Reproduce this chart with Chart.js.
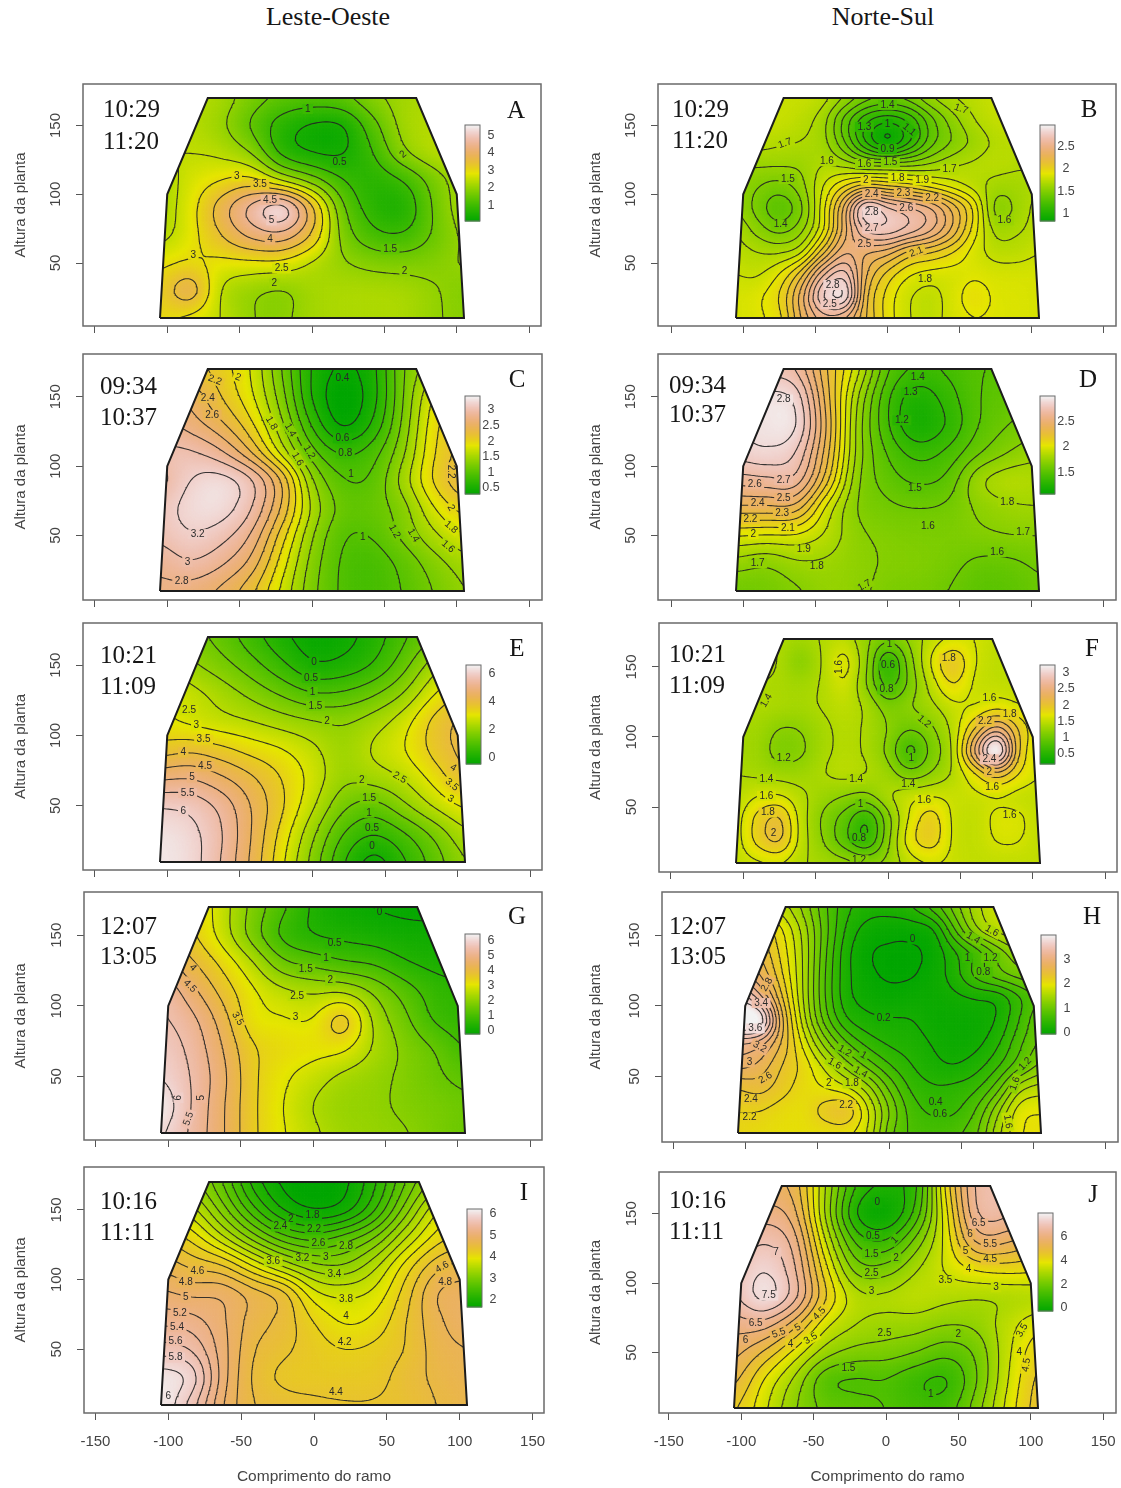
<!DOCTYPE html>
<html lang="pt">
<head>
<meta charset="UTF-8">
<title>Leste-Oeste / Norte-Sul</title>
<script src="https://cdn.jsdelivr.net/npm/chart.js"></script>
<style>
html,body{margin:0;padding:0;background:#fff}
#page{position:relative;width:1121px;height:1488px;overflow:hidden}
canvas{position:absolute;filter:blur(.35px)}
.t{position:absolute;font-family:"Liberation Serif",serif;color:#161616;white-space:nowrap;line-height:1;transform:translateY(-50%)}
</style>
</head>
<body>
<div id="page"></div>
<script>
// values. rows run top (170) to bottom (10), columns -105 to 105
const gridA=[
[2.4,2.4,2.25,1.75,1.4,1.3,1.4,1.9,2.2,2.3,2.3],
[2.4,2.4,2.1,1.4,.7,.36,.36,1.3,2.2,2.4,2.4],
[2.5,2.5,2.4,2,.75,.4,.4,.95,1.95,2.4,2.5],
[2.2,2.7,3,3.2,2.4,1.75,1,.7,.95,1.7,2.3],
[2.2,2.8,3.8,4.8,5.7,3.8,1.55,.72,.55,1.55,2.3],
[2.3,2.8,3.5,4.2,4.4,3.5,1.8,1.1,1,1.55,2.1],
[2.9,3.05,2.85,2.85,2.85,2.4,2.05,1.85,1.8,1.85,2.05],
[3.2,4,2.4,2.05,1.9,2.2,2.3,2.3,2.25,2.05,1.85],
[3.05,2.85,2.5,2,1.9,2.2,2.3,2.3,2.3,2.05,1.9]];
const gridB=[
[1.8,1.8,1.8,1.8,1.75,1.6,1.45,1.4,1.45,1.6,1.7,1.75,1.8,1.8,1.8],
[1.8,1.8,1.8,1.75,1.65,1.35,1.1,1,1.1,1.35,1.55,1.7,1.78,1.8,1.8],
[1.75,1.75,1.72,1.7,1.65,1.4,1.05,.82,1.05,1.35,1.5,1.62,1.72,1.75,1.75],
[1.6,1.62,1.62,1.62,1.7,1.65,1.55,1.55,1.55,1.6,1.68,1.72,1.75,1.72,1.7],
[1.6,1.5,1.45,1.55,1.8,2,2.15,2.1,2.05,1.95,1.85,1.75,1.65,1.65,1.7],
[1.6,1.45,1.3,1.45,1.85,2.35,2.95,2.75,2.65,2.55,2.3,2,1.52,1.62,1.75],
[1.7,1.55,1.45,1.55,1.85,2.35,2.75,2.8,2.7,2.55,2.3,1.95,1.65,1.68,1.75],
[1.75,1.7,1.68,1.75,2.15,2.5,2.4,2.35,2.15,2.1,2,1.85,1.75,1.75,1.8],
[1.8,1.78,1.9,2.15,2.6,2.8,2.3,2.05,1.9,1.85,1.85,1.88,1.85,1.85,1.85],
[1.85,1.88,2,2.35,2.85,3,2.2,1.95,1.8,1.75,1.85,1.97,1.88,1.87,1.85],
[1.85,1.88,1.95,2.3,2.55,2.5,2.2,1.95,1.8,1.75,1.85,1.9,1.88,1.87,1.85]];
const gridC=[
[2.4,2.3,2.1,1.8,1.2,.55,.36,.5,1.2,1.55,1.75],
[2.6,2.55,2.2,1.85,1.3,.55,.24,.48,1.2,1.85,2.1],
[2.9,2.7,2.45,2.05,1.45,.75,.3,.6,1.25,1.95,2.25],
[3.05,3.05,2.85,2.4,1.7,1.05,.75,.9,1.35,2,2.3],
[2.9,3.22,3.33,3.1,2.45,1.4,1,1.02,1.5,2.05,2.4],
[3.1,3.3,3.33,3.05,2.4,1.55,1.12,1.1,1.3,1.8,2.1],
[3.05,3.2,3.1,2.8,2.1,1.4,1,1,1.25,1.55,1.8],
[2.85,3,2.85,2.55,1.9,1.3,.95,.88,1.05,1.3,1.5],
[2.75,2.7,2.55,2.25,1.75,1.25,.95,.88,1,1.2,1.4]];
const gridD=[
[2.7,2.75,2.7,2.3,1.95,1.5,1.38,1.42,1.5,1.5,1.55],
[2.85,2.95,2.9,2.35,1.8,1.4,1.22,1.35,1.5,1.55,1.6],
[2.9,2.95,2.95,2.4,1.75,1.4,1.17,1.3,1.5,1.6,1.65],
[2.85,2.9,2.82,2.35,1.75,1.48,1.35,1.42,1.58,1.7,1.78],
[2.65,2.68,2.7,2.25,1.7,1.55,1.47,1.52,1.8,1.88,1.85],
[2.38,2.38,2.38,1.95,1.68,1.62,1.6,1.62,1.72,1.78,1.8],
[2,1.98,1.98,1.88,1.72,1.68,1.66,1.66,1.68,1.7,1.7],
[1.75,1.7,1.78,1.78,1.73,1.69,1.68,1.64,1.57,1.57,1.62],
[1.6,1.62,1.68,1.75,1.73,1.66,1.64,1.6,1.52,1.52,1.58]];
const gridE=[
[1.9,1.7,1.3,.7,.1,-.3,-.2,.2,.9,1.5,1.9],
[2.6,2.1,1.7,1.2,.6,0,.1,.5,1.3,2.3,2.8],
[3,2.7,2.3,1.85,1.4,1,1.05,1.4,2,3,3.6],
[3.1,2.85,2.65,2.5,2.25,2.05,1.95,2.25,2.8,3.7,4.2],
[3.7,3.9,3.65,3.3,3.05,2.65,2.15,2.6,3,3.7,4.2],
[4.9,5,4.6,4.1,3.5,2.85,2.1,2.25,2.55,3.2,3.95],
[6,5.9,5.4,4.5,3.6,2.6,1.6,1.25,1.9,2.6,3.1],
[6.4,6.2,5.6,4.5,3.3,2.1,.95,.45,.9,1.6,2.4],
[6.45,6.25,5.5,4.4,3.1,1.8,.5,-.3,.4,1.2,2]];
const gridF=[
[1.45,1.45,1.4,1.33,1.42,1.5,1.25,1.05,1.25,1.5,1.62,1.6,1.5,1.5,1.5],
[1.45,1.45,1.4,1.15,1.42,1.72,1.25,.5,1.1,1.65,2.05,1.6,1.48,1.5,1.5],
[1.45,1.4,1.38,1.33,1.42,1.62,1.2,.65,1.05,1.5,1.85,1.55,1.5,1.5,1.5],
[1.4,1.4,1.38,1.35,1.42,1.5,1.38,1.1,1.2,1.35,1.55,1.58,1.7,1.6,1.55],
[1.35,1.33,1.18,1.2,1.35,1.45,1.38,1.2,1,1.15,1.45,2,2.55,2,1.6],
[1.33,1.3,1.1,1.15,1.35,1.45,1.38,1.15,.65,1.05,1.4,2.5,3.6,2,1.55],
[1.4,1.35,1.3,1.3,1.4,1.48,1.42,1.3,1.05,1.2,1.42,1.75,2.15,1.8,1.6],
[1.45,1.6,1.62,1.45,1.3,1.2,1.15,1.4,1.55,1.6,1.55,1.55,1.58,1.52,1.5],
[1.5,1.9,2.1,1.5,1.15,.9,.55,1.1,1.65,1.95,1.55,1.5,1.65,1.65,1.5],
[1.5,1.9,2.1,1.5,1.2,.85,.52,1.15,1.75,1.95,1.55,1.5,1.62,1.62,1.5],
[1.5,1.55,1.6,1.42,1.35,1.3,1.2,1.25,1.5,1.6,1.55,1.5,1.5,1.5,1.5]];
const gridG=[
[3.6,3.5,2.75,1.85,1.1,.4,.07,-.03,-.1,-.1,-.1],
[4.1,3.6,2.8,1.75,.8,.45,.35,.25,.15,.1,.1],
[4.8,4.1,3.4,2.6,1.6,1.35,1.05,.95,.55,.35,.3],
[5.5,4.7,3.85,3.1,2.65,2.45,2.5,1.95,1.3,.75,.6],
[5.6,5.2,4.3,3.15,3.05,3,3.95,2.4,1.65,.9,.7],
[5.8,5.4,4.55,3.55,3.3,3.2,3.15,2.45,1.9,1.5,.95],
[6,5.5,4.7,3.6,3.1,2.75,2.35,2.15,1.9,1.6,1.35],
[6.4,5.5,4.6,3.6,3,2.45,2.15,2.1,1.9,1.75,1.6],
[6.1,5.4,4.6,3.6,3.05,2.6,2.25,2.15,2.05,1.8,1.55]];
const gridH=[
[2,1.9,1.7,1.35,.85,.45,.3,.3,.4,.7,1.1,1.55,1.8,1.8,1.8],
[2.6,2.4,2.05,1.55,.9,.35,.1,.05,.05,.12,.8,1.4,1.7,1.85,1.9],
[2.9,2.6,2.15,1.6,.85,.25,0,-.03,-.03,.03,.35,.65,1.05,1.4,1.6],
[3.1,2.8,2.25,1.6,.8,.25,.03,-.03,-.03,.08,.3,.7,.95,1.1,1.2],
[3.8,3.3,2.45,1.6,.8,.25,.1,.05,.1,.1,.15,.2,.22,.55,.85],
[4.3,4.2,2.7,1.7,.9,.4,.25,.22,.21,.1,.08,.08,.2,.6,1],
[3.2,3.1,2.6,1.95,1.3,.8,.5,.35,.3,.18,.1,.12,.35,.75,1.05],
[2.9,2.75,2.4,2.15,1.75,1.3,.9,.6,.4,.25,.18,.3,.55,.9,1.25],
[2.4,2.5,2.3,2.1,2,1.85,1.5,.95,.55,.42,.45,.55,.9,1.55,1.7],
[2.2,2.2,2.1,2.05,2.32,2.45,1.85,1.2,.7,.55,.55,.8,1.35,1.95,2],
[2.15,2.1,2.05,2.05,2.05,2.05,1.8,1.05,.75,.7,.75,.95,1.55,2,2.05]];
const gridI=[
[3.6,3.3,2.8,2.1,1.72,1.62,1.72,2.15,2.8,3.3,3.5],
[3.9,3.7,3.1,2.45,1.95,1.75,1.85,2.35,3.1,3.8,4],
[4.4,4.15,3.65,3.1,2.65,2.5,2.7,3,3.6,4.1,4.3],
[4.75,4.55,4.45,4,3.55,3.25,3.2,3.55,4.1,4.55,4.7],
[5.05,4.95,5,4.75,4.55,3.85,3.75,3.85,4.3,4.85,4.9],
[5.35,5.3,5.05,4.7,4.55,4.2,3.95,4.05,4.4,4.75,4.95],
[5.7,5.6,5.1,4.6,4.45,4.3,4.2,4.25,4.4,4.7,4.8],
[6.15,6,5.1,4.55,4.32,4.3,4.3,4.32,4.5,4.65,4.75],
[6.2,5.7,5,4.6,4.5,4.45,4.42,4.42,4.45,4.6,4.7]];
const gridJ=[
[5.8,5.6,5.4,3,.9,.4,.7,4.3,6.8,6.8,6.5],
[6,6.3,5.8,2.9,.3,-.2,1.1,3.9,6.7,6.7,6.2],
[6.5,7.05,6.4,3.5,1.3,.95,2.2,3.7,5.8,5.6,5],
[6.9,7.6,6.7,4.2,2.2,2.2,3,3.6,4.05,4.2,4.1],
[6.9,7.9,6.85,4.6,3.2,3.15,3.35,3.15,3,3,3.1],
[6.2,6.3,5.2,3.6,3,2.8,2.75,2.5,2.6,3.3,3.9],
[5.7,4.9,3.8,2.7,2.3,2.25,2,1.6,2.05,3.4,4.4],
[5.2,3.9,2.85,1.5,1.35,1.45,1,.8,1.95,3.5,4.7],
[4.6,3.6,2.5,1.85,1.7,1.5,1.2,1.2,2.3,3.7,4.8]];

// contour labels: x, y, text, rotation
const labelsA=[[-3,162,'1'],[19,123,'0.5'],[63,129,'2',-40],[-52,113,'3'],[-36,107,'3.5'],[-29,96,'4.5'],[-28,81,'5'],[-29,67,'4'],[-82,56,'3'],[-21,46,'2.5'],[-26,35,'2'],[64,44,'2'],[54,60,'1.5']];
const labelsB=[[0,165,'1.4'],[51,162,'1.7',20],[-71,137,'1.7',-20],[-16,149,'1.3'],[0,151,'1'],[15,147,'1.1',40],[0,133,'0.9'],[-42,124,'1.6'],[-16,122,'1.6'],[2,123,'1.5'],[43,118,'1.7'],[-69,111,'1.5'],[-15,110,'2'],[7,112,'1.8'],[24,110,'1.9'],[-11,100,'2.4'],[11,101,'2.3'],[31,97,'2.2'],[13,90,'2.6'],[-11,87,'2.8'],[-11,75,'2.7'],[-16,64,'2.5'],[20,58,'2.1',-20],[-74,78,'1.4'],[81,81,'1.6'],[26,38,'1.8'],[-38,34,'2.8'],[-40,20,'2.5']];
const labelsC=[[21,163,'0.4'],[-67,162,'2.2',20],[-51,164,'2',20],[-72,149,'2.4'],[-69,137,'2.6'],[-28,131,'1.8',60],[-15,126,'1.4',60],[-2,110,'1.2',60],[-10,105,'1.6',60],[21,120,'0.6'],[23,109,'0.8'],[27,94,'1'],[96,96,'2.2',90],[96,70,'2',60],[96,56,'1.8',40],[94,42,'1.6',40],[70,50,'1.4',60],[57,53,'1.2',60],[35,49,'1'],[-79,51,'3.2'],[-86,31,'3'],[-90,17,'2.8']];
const labelsD=[[21,164,'1.4'],[16,153,'1.3'],[10,133,'1.2'],[-72,148,'2.8'],[-72,90,'2.7'],[-92,87,'2.6'],[-72,77,'2.5'],[-90,73,'2.4'],[-73,66,'2.3'],[-95,62,'2.2'],[-69,55,'2.1'],[-93,51,'2'],[-58,40,'1.9'],[-49,28,'1.8'],[-90,30,'1.7'],[-16,14,'1.7',-30],[19,84,'1.5'],[28,57,'1.6'],[83,74,'1.8'],[94,52,'1.7'],[76,38,'1.6']];
const labelsE=[[1,152,'0'],[-1,141,'0.5'],[0,131,'1'],[2,121,'1.5'],[10,110,'2'],[-85,118,'2.5'],[-80,107,'3'],[-75,97,'3.5'],[-89,88,'4'],[-74,78,'4.5'],[-83,70,'5'],[-86,59,'5.5'],[-89,46,'6'],[34,68,'2'],[39,55,'1.5'],[39,45,'1'],[41,34,'0.5'],[41,21,'0'],[60,70,'2.5',30],[97,77,'4',30],[96,65,'3.5',40],[95,55,'3',30]];
const labelsF=[[-84,126,'1.4',-60],[-34,150,'1.6',-90],[1,166,'1'],[0,151,'0.6'],[-1,134,'0.8'],[42,156,'1.8'],[70,128,'1.6'],[84,116,'1.8'],[25,111,'1.2',40],[67,111,'2.2'],[70,84,'2.4'],[70,75,'2'],[72,64,'1.6'],[-72,85,'1.2'],[16,85,'1'],[-84,70,'1.4'],[-22,70,'1.4'],[14,66,'1.4'],[-84,58,'1.6'],[-83,46,'1.8'],[-79,31,'2'],[-19,52,'1'],[-20,28,'0.8'],[-20,12,'1.2'],[25,55,'1.6'],[84,44,'1.6']];
const labelsG=[[46,166,'0'],[15,144,'0.5'],[9,134,'1'],[-5,126,'1.5'],[12,118,'2'],[-11,107,'2.5'],[-12,92,'3'],[-52,91,'3.5',60],[-83,127,'4',45],[-85,114,'4.5',45],[-77,35,'5',-90],[-93,35,'6',-90],[-86,20,'5.5',-70]];
const labelsH=[[-85,115,'2.8',-60],[-89,102,'3.4'],[-93,84,'3.6'],[-90,71,'3.2',30],[-97,60,'3'],[-86,49,'2.6',-30],[-96,34,'2.4'],[-97,21,'2.2'],[-42,45,'2'],[-26,45,'1.8'],[-38,59,'1.6',30],[-31,68,'1.2',30],[-18,65,'1',30],[-20,53,'1.4',30],[-4,91,'0.2'],[16,147,'0'],[32,32,'0.4'],[35,23,'0.6'],[58,148,'1.4',30],[71,153,'1.6',30],[54,134,'1'],[70,134,'1.2'],[65,124,'0.8'],[-30,30,'2.2'],[94,59,'1.2',-45],[87,45,'1.6',-70],[82,18,'1.6',80]];
const labelsI=[[-1,146,'1.8'],[-16,143,'2'],[0,136,'2.2'],[-23,138,'2.4'],[3,126,'2.6'],[22,124,'2.8'],[8,116,'3'],[-8,115,'3.2'],[14,104,'3.4'],[-28,113,'3.6'],[22,86,'3.8'],[22,74,'4'],[21,55,'4.2'],[15,19,'4.4'],[-80,106,'4.6'],[-88,98,'4.8'],[-88,87,'5'],[-92,76,'5.2'],[-94,66,'5.4'],[-95,56,'5.6'],[-95,44,'5.8'],[-100,16,'6'],[88,109,'4.6',-30],[90,98,'4.8']];
const labelsJ=[[-76,122,'7'],[-81,91,'7.5'],[-90,71,'6.5'],[-97,59,'6'],[-74,64,'5.5',-20],[-61,68,'5',-30],[-46,78,'4.5',-45],[-66,56,'4'],[-52,60,'3.5',-30],[-10,94,'3'],[-10,107,'2.5'],[7,118,'2'],[-10,121,'1.5'],[6,131,'1',-45],[-9,134,'0.5'],[-6,158,'0'],[64,143,'6.5'],[58,135,'6'],[72,128,'5.5'],[55,123,'5'],[72,117,'4.5'],[57,110,'4'],[41,102,'3.5'],[76,97,'3'],[-1,64,'2.5'],[50,63,'2'],[-26,39,'1.5'],[31,20,'1'],[94,66,'3.5',-60],[92,50,'4'],[97,41,'4.5',-80]];

const letters=['A','B','C','D','E','F','G','H','I','J'];
const startTimes=['10:29','10:29','09:34','09:34','10:21','10:21','12:07','12:07','10:16','10:16'];
const endTimes=['11:20','11:20','10:37','10:37','11:09','11:09','13:05','13:05','11:11','11:11'];
const grids=[gridA,gridB,gridC,gridD,gridE,gridF,gridG,gridH,gridI,gridJ];
const contourLabels=[labelsA,labelsB,labelsC,labelsD,labelsE,labelsF,labelsG,labelsH,labelsI,labelsJ];
const contourSteps=[.5,.1,.2,.1,.5,.2,.5,.2,.2,.5];
const colourRanges=[[.1,5.6],[.82,3],[.3,3.45],[1.07,3],[-.45,6.6],[.16,3.25],[-.2,6.4],[-.05,4],[1.67,6.23],[-.25,8]];
const keyTicks=[[1,2,3,4,5],[1,1.5,2,2.5],[.5,1,1.5,2,2.5,3],[1.5,2,2.5],[0,2,4,6],[.5,1,1.5,2,2.5,3],[0,1,2,3,4,5,6],[0,1,2,3],[2,3,4,5,6],[0,2,4,6]];
const xTicks=[-150,-100,-50,0,50,100,150];
const yTicks=[50,100,150];
const outlineX=[-105,-100,-72,72,100,105,-105];
const outlineY=[10,100,170,170,100,10,10];

// page layout, pixels: frame l r t b, crown box x0 x1 y0 y1, colour key x0 x1 y0 y1
const frames=[[83,541,84,326],[658,1116,84,326],[83,542,354,600],[658,1116,354,600],[83,542,623,870],[659,1117,623,872],[84,542,892,1140],[662,1118,892,1142],[84,544,1167,1413],[659,1116,1172,1413]];
const boxes=[[160,464,98,318],[736,1039,98,318],[160,464,369,591],[736,1039,369,591],[160,465,637,862],[736,1040,639,863],[161,465,907,1133],[738,1041,907,1133],[161,467,1182,1405],[734,1038,1186,1408]];
const keys=[[465,480,125,221],[1040,1055,125,221],[465,480,396,494],[1040,1055,396,494],[466,481,665,764],[1040,1055,665,764],[465,480,934,1034],[1041,1056,935,1034],[467,482,1209,1307],[1038,1053,1213,1311]];
const timePos=[[103,108,140],[672,108,139],[100,385,416],[669,384,413],[100,654,685],[669,653,684],[100,925,955],[669,925,955],[100,1200,1231],[669,1199,1230]];
const letterPos=[[516,109],[1089,108],[517,378],[1088,378],[517,647],[1092,647],[517,915],[1092,915],[524,1191],[1093,1193]];

const page=document.getElementById('page');

function addText(str,x,y,size,centre){
  const d=document.createElement('div');
  d.className='t';
  d.textContent=str;
  d.style.left=x+'px';
  d.style.top=y+'px';
  d.style.fontSize=size+'px';
  if(centre) d.style.transform='translate(-50%,-50%)';
  page.appendChild(d);
}
addText('Leste-Oeste',328,17,26,true);
addText('Norte-Sul',883,17,26,true);

// R terrain.colors ramp
function terrain(t){
  t=Math.max(0,Math.min(1,t));
  let h,s,v;
  if(t<.5){const u=t*2;h=(4-2*u)/12;s=1;v=.65+.25*u;}
  else{const u=(t-.5)*2;h=(2-2*u)/12;s=1-u;v=.9+.05*u;}
  const i=Math.floor(h*6),f=h*6-i,p=v*(1-s),q=v*(1-f*s),w=v*(1-(1-f)*s);
  const c=[[v,w,p],[q,v,p],[p,v,w],[p,q,v],[w,p,v],[v,p,q]][i%6];
  return 'rgb('+c.map(a=>Math.round(a*255)).join(',')+')';
}
const ramp=[];
for(let i=0;i<=255;i++) ramp.push(terrain(i/255));

// half catmull-rom, half b-spline: keeps the grid readings but rounds the lines off
function cubic(a,b,c,d,t){
  const cr=b+.5*t*(c-a+t*(2*a-5*b+4*c-d+t*(3*(b-c)+d-a)));
  const t2=t*t,t3=t2*t,m=1-t;
  const bs=(m*m*m*a+(3*t3-6*t2+4)*b+(-3*t3+3*t2+3*t+1)*c+t3*d)/6;
  return .5*cr+.5*bs;
}
// smooth reading of a grid at data position x,y
function fieldAt(grid,x,y){
  const rows=grid.length,cols=grid[0].length;
  const gx=Math.max(0,Math.min(cols-1.0001,(x+105)/210*(cols-1)));
  const gy=Math.max(0,Math.min(rows-1.0001,(170-y)/160*(rows-1)));
  const ix=Math.floor(gx),iy=Math.floor(gy),tx=gx-ix,ty=gy-iy;
  const vals=[];
  for(let j=-1;j<=2;j++){
    const r=grid[Math.max(0,Math.min(rows-1,iy+j))];
    vals.push(cubic(r[Math.max(0,ix-1)],r[ix],r[Math.min(cols-1,ix+1)],r[Math.min(cols-1,ix+2)],tx));
  }
  return cubic(vals[0],vals[1],vals[2],vals[3],ty);
}

// marching squares, one dataset per level, segments split by null points
function contourData(grid,level){
  const step=1.5,out=[];
  const nx=Math.round(210/step),ny=Math.round(160/step);
  const f=[];
  for(let j=0;j<=ny;j++){
    const row=[];
    for(let i=0;i<=nx;i++) row.push(fieldAt(grid,-105+i*step,10+j*step)-level);
    f.push(row);
  }
  const cut=(a,b)=>a/(a-b);
  for(let j=0;j<ny;j++){
    for(let i=0;i<nx;i++){
      const a=f[j][i],b=f[j][i+1],c=f[j+1][i+1],d=f[j+1][i];
      const pts=[];
      const x0=-105+i*step,y0=10+j*step;
      if((a<0)!==(b<0)) pts.push({x:x0+cut(a,b)*step,y:y0});
      if((b<0)!==(c<0)) pts.push({x:x0+step,y:y0+cut(b,c)*step});
      if((d<0)!==(c<0)) pts.push({x:x0+cut(d,c)*step,y:y0+step});
      if((a<0)!==(d<0)) pts.push({x:x0,y:y0+cut(a,d)*step});
      if(pts.length===2) out.push(pts[0],pts[1],{x:x0,y:null});
      else if(pts.length===4) out.push(pts[0],pts[1],{x:x0,y:null},pts[2],pts[3],{x:x0,y:null});
    }
  }
  return out;
}

function clipCrown(chart){
  const c=chart.ctx,sx=chart.scales.x,sy=chart.scales.y;
  c.beginPath();
  outlineX.forEach((v,i)=>{
    const px=sx.getPixelForValue(v),py=sy.getPixelForValue(outlineY[i]);
    if(i) c.lineTo(px,py); else c.moveTo(px,py);
  });
  c.closePath();
  c.clip();
}

const surfacePlugin={
  id:'surface',
  beforeDatasetsDraw(chart,args,o){
    const c=chart.ctx,sx=chart.scales.x,sy=chart.scales.y,a=chart.chartArea;
    c.save();
    c.strokeStyle='#6a6a6a';
    c.lineWidth=1.5;
    c.strokeRect(a.left,a.top,a.right-a.left,a.bottom-a.top);
    c.restore();
    c.save();
    clipCrown(chart);
    const cw=sx.getPixelForValue(1)-sx.getPixelForValue(0)+.7;
    const ch=sy.getPixelForValue(10)-sy.getPixelForValue(11)+.7;
    for(let x=-105;x<=105;x++){
      for(let y=10;y<=170;y++){
        const t=(fieldAt(o.grid,x,y)-o.range[0])/(o.range[1]-o.range[0]);
        c.fillStyle=ramp[Math.max(0,Math.min(255,Math.round(t*255)))];
        c.fillRect(sx.getPixelForValue(x)-cw/2,sy.getPixelForValue(y)-ch/2,cw,ch);
      }
    }
    c.restore();
    // colour key
    const k=o.key,ox=o.ox,oy=o.oy;
    c.save();
    for(let py=k[2];py<k[3];py++){
      const t=1-(py-k[2])/(k[3]-k[2]);
      c.fillStyle=ramp[Math.round(t*255)];
      c.fillRect(k[0]-ox,py-oy,k[1]-k[0],1.5);
    }
    c.strokeStyle='#6a6a6a';
    c.lineWidth=1;
    c.strokeRect(k[0]-ox,k[2]-oy,k[1]-k[0],k[3]-k[2]);
    c.fillStyle='#444';
    c.font='12.5px "Liberation Sans"';
    c.textAlign='center';
    c.textBaseline='middle';
    o.keyTicks.forEach(v=>{
      const py=k[3]-(v-o.range[0])/(o.range[1]-o.range[0])*(k[3]-k[2]);
      c.fillText(String(v),k[1]+11-ox,py-oy);
    });
    c.restore();
  },
  beforeDatasetDraw(chart,args,o){
    if(args.index===0){
      // outline goes last, so contour labels go just before it
      const c=chart.ctx,sx=chart.scales.x,sy=chart.scales.y;
      c.save();
      clipCrown(chart);
      c.font='10px "Liberation Sans"';
      c.textAlign='center';
      c.textBaseline='middle';
      o.labels.forEach(l=>{
        const t=(fieldAt(o.grid,l[0],l[1])-o.range[0])/(o.range[1]-o.range[0]);
        c.save();
        c.translate(sx.getPixelForValue(l[0]),sy.getPixelForValue(l[1]));
        c.rotate((l[3]||0)*Math.PI/180);
        const w=c.measureText(l[2]).width+5;
        c.fillStyle=ramp[Math.max(0,Math.min(255,Math.round(t*255)))];
        c.fillRect(-w/2,-5,w,10);
        c.fillStyle='#2a2a2a';
        c.fillText(l[2],0,0);
        c.restore();
      });
      c.restore();
      return;
    }
    chart.ctx.save();
    clipCrown(chart);
  },
  afterDatasetDraw(chart,args){
    if(args.index!==0) chart.ctx.restore();
  }
};
Chart.register(surfacePlugin);

// rotated or end labels must not push the frame inwards
function noPadding(s){
  s.paddingTop=0;s.paddingBottom=0;s.paddingLeft=0;s.paddingRight=0;
}

grids.forEach((grid,n)=>{
  const fr=frames[n],bx=boxes[n],bottomRow=n>=8;
  const kx=(bx[1]-bx[0])/210,ky=(bx[3]-bx[2])/160;
  const left=n%2?575:0,right=n%2?1121:560;
  const top=fr[2]-12,below=bottomRow?77:10;
  const canvas=document.createElement('canvas');
  canvas.width=right-left;
  canvas.height=fr[3]+below-top;
  canvas.style.left=left+'px';
  canvas.style.top=top+'px';
  page.appendChild(canvas);

  const [zmin,zmax]=colourRanges[n];
  const sets=[{
    data:outlineX.map((v,i)=>({x:v,y:outlineY[i]})),
    showLine:true,pointRadius:0,borderColor:'#1c1c1c',borderWidth:2,borderJoinStyle:'miter'
  }];
  const st=contourSteps[n];
  for(let k=Math.ceil(zmin/st);k*st<zmax;k++){
    sets.push({
      data:contourData(grid,k*st+.0001),
      showLine:true,spanGaps:false,pointRadius:0,borderColor:'rgba(35,35,35,.9)',borderWidth:1.1,borderCapStyle:'round'
    });
  }

  new Chart(canvas,{
    type:'scatter',
    data:{datasets:sets},
    options:{
      responsive:false,
      animation:false,
      events:[],
      devicePixelRatio:1,
      layout:{padding:{top:fr[2]-top,right:right-fr[1],left:0,bottom:0}},
      plugins:{
        legend:{display:false},
        tooltip:{enabled:false},
        surface:{grid:grid,labels:contourLabels[n],range:colourRanges[n],key:keys[n],keyTicks:keyTicks[n],ox:left,oy:top}
      },
      scales:{
        x:{
          type:'linear',
          min:-105-(bx[0]-fr[0])/kx,
          max:105+(fr[1]-bx[1])/kx,
          afterBuildTicks:s=>{s.ticks=xTicks.map(v=>({value:v}));},
          afterFit:s=>{s.height=below;noPadding(s);},
          border:{display:false},
          grid:{drawOnChartArea:false,drawTicks:true,tickLength:7,tickColor:'#555'},
          ticks:{display:bottomRow,maxRotation:0,minRotation:0,autoSkip:false,padding:13,color:'#444',font:{family:'"Liberation Sans"',size:15},callback:v=>String(v)},
          title:{display:bottomRow,text:'Comprimento do ramo',color:'#444',font:{family:'"Liberation Sans"',size:15.5}}
        },
        y:{
          type:'linear',
          min:10-(fr[3]-bx[3])/ky,
          max:170+(bx[2]-fr[2])/ky,
          afterBuildTicks:s=>{s.ticks=yTicks.map(v=>({value:v}));},
          afterCalculateLabelRotation:s=>{s.labelRotation=90;},
          afterFit:s=>{s.width=fr[0]-left;noPadding(s);},
          border:{display:false},
          grid:{drawOnChartArea:false,drawTicks:true,tickLength:7,tickColor:'#555'},
          ticks:{crossAlign:'center',padding:8,color:'#444',font:{family:'"Liberation Sans"',size:15},callback:v=>String(v)},
          title:{display:true,text:'Altura da planta',color:'#444',padding:{top:12,bottom:0},font:{family:'"Liberation Sans"',size:15}}
        }
      }
    }
  });

  addText(startTimes[n],timePos[n][0],timePos[n][1],25);
  addText(endTimes[n],timePos[n][0],timePos[n][2],25);
  addText(letters[n],letterPos[n][0],letterPos[n][1],25,true);
});
</script>
</body>
</html>
